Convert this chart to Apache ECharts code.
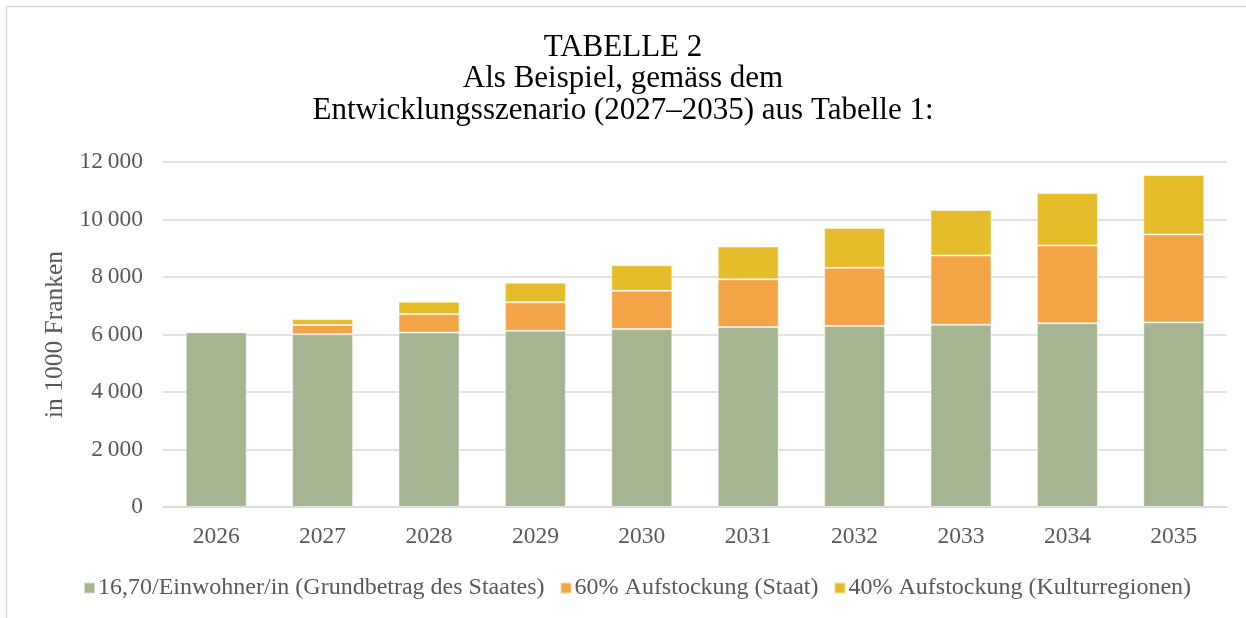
<!DOCTYPE html>
<html>
<head>
<meta charset="utf-8">
<script src="https://cdn.jsdelivr.net/npm/echarts@6/dist/echarts.min.js"></script>
<style>
  html, body { margin: 0; padding: 0; background: #fff; }
  #main { width: 1246px; height: 618px; }
</style>
</head>
<body>
<div id="main"></div>
<script>
// Daten (in 1000 Franken)
var jahre = ['2026', '2027', '2028', '2029', '2030', '2031', '2032', '2033', '2034', '2035'];
var grundbetrag = [6080, 6010, 6070, 6130, 6190, 6260, 6300, 6340, 6390, 6420];
var aufstockungStaat = [0, 320, 640, 990, 1330, 1660, 2020, 2410, 2710, 3060];
var aufstockungRegionen = [0, 210, 430, 680, 890, 1140, 1380, 1580, 1820, 2070];
var serienNamen = [
    '16,70/Einwohner/in (Grundbetrag des Staates)',
    '60% Aufstockung (Staat)',
    '40% Aufstockung (Kulturregionen)'
];
var yTicks = [0, 2000, 4000, 6000, 8000, 10000, 12000];

var myChart = echarts.init(document.getElementById('main'));

var font = '"Liberation Serif", "Times New Roman", serif';
var grau = '#595959';

function fmt(v) {
    var s = String(v);
    return s.length > 3 ? s.slice(0, -3) + '\u2009' + s.slice(-3) : s;
}

function balken(name, daten, farbe) {
    return {
        name: name,
        type: 'bar',
        stack: 'summe',
        barWidth: 61,
        itemStyle: { color: farbe, borderColor: 'rgba(255,255,255,0.5)', borderWidth: 1 },
        data: daten
    };
}

var option = {
    animation: false,
    textStyle: { fontFamily: font },
    title: {
        text: 'TABELLE 2\nAls Beispiel, gemäss dem\nEntwicklungsszenario (2027–2035) aus Tabelle 1:',
        left: 'center',
        top: 27,
        textStyle: { fontFamily: font, fontSize: 31, fontWeight: 'normal', color: '#000', lineHeight: 31.5 }
    },
    graphic: [{
        type: 'polyline',
        shape: { points: [[6.5, 640], [6.5, 6.5], [1260, 6.5]] },
        style: { stroke: '#d9d9d9', lineWidth: 1.5, fill: null }
    }],
    legend: {
        bottom: 13,
        left: 78,
        itemWidth: 11,
        itemHeight: 11,
        itemGap: 15,
        icon: 'rect',
        textStyle: { fontFamily: font, fontSize: 24, color: grau, padding: [0, 0, 0, -2] },
        data: serienNamen
    },
    grid: { left: 163, right: 19, top: 162, bottom: 111 },
    xAxis: {
        type: 'category',
        data: jahre,
        axisLine: { lineStyle: { color: '#d9d9d9', width: 1.5 } },
        axisTick: { show: false },
        axisLabel: { fontFamily: font, fontSize: 23.5, color: grau, margin: 18 }
    },
    yAxis: {
        type: 'value',
        min: yTicks[0],
        max: yTicks[yTicks.length - 1],
        interval: 2000,
        name: 'in 1000 Franken',
        nameLocation: 'middle',
        nameGap: 92,
        nameTextStyle: { fontFamily: font, fontSize: 25.5, color: grau },
        axisLine: { show: false },
        axisTick: { show: false },
        splitLine: { lineStyle: { color: '#d9d9d9', width: 1.5 } },
        axisLabel: { fontFamily: font, fontSize: 23.5, color: grau, margin: 20, formatter: fmt }
    },
    series: [
        balken(serienNamen[0], grundbetrag, '#a5b592'),
        balken(serienNamen[1], aufstockungStaat, '#f3a447'),
        balken(serienNamen[2], aufstockungRegionen, '#e5bc29')
    ]
};

myChart.setOption(option);
</script>
</body>
</html>
